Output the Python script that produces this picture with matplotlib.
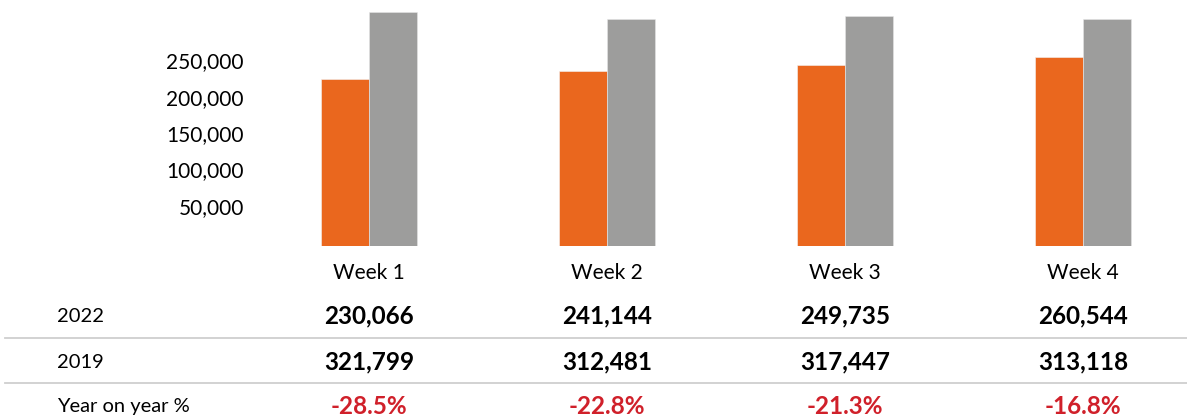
import numpy as np
import matplotlib.pyplot as plt
from matplotlib.lines import Line2D
from matplotlib.transforms import blended_transform_factory, ScaledTranslation

weeks = ['Week 1', 'Week 2', 'Week 3', 'Week 4']
visits_2022 = [230066, 241144, 249735, 260544]
visits_2019 = [321799, 312481, 317447, 313118]
yoy_labels = ['-28.5%', '-22.8%', '-21.3%', '-16.8%']
row_labels = ['2022', '2019', 'Year on year %']
y_ticks = [0, 50000, 100000, 150000, 200000, 250000]

orange = '#EA671E'
grey = '#9D9D9C'
red = '#D0202A'

plt.rcParams['font.family'] = ['Lato', 'DejaVu Sans']

fig = plt.figure(figsize=(11.87, 4.19), dpi=100)
ax = fig.add_axes([248 / 1187, 1 - 246 / 419, 1 - 248 / 1187, 246 / 419])

x = np.arange(len(weeks))
w = 0.2
ax.bar(x - w / 2, visits_2022, w, color=orange, edgecolor='#f3f3f3', linewidth=0.4)
ax.bar(x + w / 2, visits_2019, w, color=grey, edgecolor='#e6e6e6', linewidth=0.4)

ax.set_xticks(x)
ax.set_xticklabels(weeks, fontsize=15)
ax.set_yticks(y_ticks)
ax.set_yticklabels(['' if v == 0 else f'{v:,}' for v in y_ticks], fontsize=15)
# limits after the ticks so they don't get stretched
ax.set_xlim(-121 / 238, 3 + (1187 - 1083) / 238)
ax.set_ylim(0, 246 / 36.3 * 50000)
ax.tick_params(axis='x', length=0, pad=12)
ax.tick_params(axis='y', length=0, pad=3)
# labels sit a little above their tick value in the original
shift = ScaledTranslation(0, 4 / 100, fig.dpi_scale_trans)
for lbl in ax.get_yticklabels():
    lbl.set_transform(lbl.get_transform() + shift)
for s in ax.spines.values():
    s.set_visible(False)

# table below the chart
trans = blended_transform_factory(ax.transData, fig.transFigure)
row_y = [1 - 316 / 419, 1 - 362 / 419, 1 - 406 / 419]
for label, ry in zip(row_labels, row_y):
    fig.text(57 / 1187, ry, label, fontsize=14.5, va='center', ha='left')

for i in range(len(weeks)):
    ax.text(x[i], row_y[0], f'{visits_2022[i]:,}', transform=trans, ha='center', va='center',
            fontsize=17.5, fontweight='bold', color='black')
    ax.text(x[i], row_y[1], f'{visits_2019[i]:,}', transform=trans, ha='center', va='center',
            fontsize=17.5, fontweight='bold', color='black')
    ax.text(x[i], row_y[2], yoy_labels[i], transform=trans, ha='center', va='center',
            fontsize=17.5, fontweight='bold', color=red)

for ly in [1 - 338 / 419, 1 - 383 / 419]:
    fig.add_artist(Line2D([5 / 1187, 1], [ly, ly], color='#CFCFCF', linewidth=1.3,
                          transform=fig.transFigure))

fig.savefig('out.png', dpi=100)
